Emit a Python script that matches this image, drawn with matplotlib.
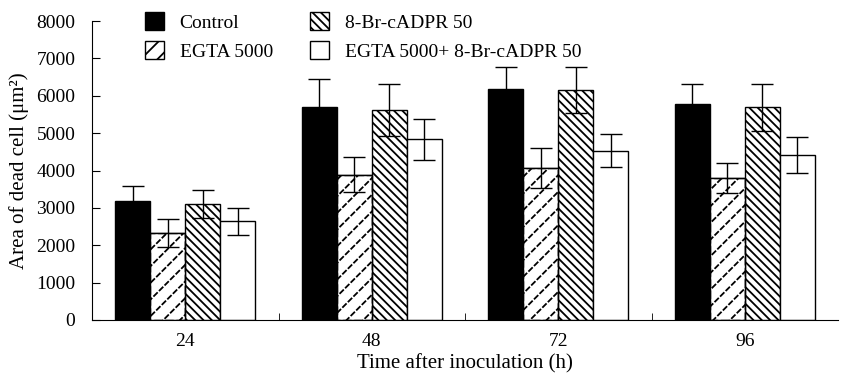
import matplotlib.pyplot as plt
import numpy as np

plt.rcParams['font.family'] = ['Liberation Serif', 'DejaVu Serif']
plt.rcParams['hatch.linewidth'] = 1.3

times = ['24', '48', '72', '96']
series = ['Control', 'EGTA 5000', '8-Br-cADPR 50', 'EGTA 5000+ 8-Br-cADPR 50']
control = [3190, 5690, 6170, 5780]
control_err = [390, 770, 600, 530]
egta = [2330, 3890, 4060, 3800]
egta_err = [380, 470, 530, 410]
br = [3100, 5615, 6150, 5690]
br_err = [370, 700, 620, 620]
combo = [2640, 4830, 4530, 4420]
combo_err = [370, 540, 440, 480]

fig = plt.figure(figsize=(8.47, 3.77), dpi=100)
ax = fig.add_axes([92 / 847, 57 / 377, 746 / 847, 299 / 377])

x = np.arange(len(times))
w = 0.1875
hatches = [None, '//', '\\\\\\\\', None]
faces = ['black', 'white', 'white', 'white']
vals = [control, egta, br, combo]
errs = [control_err, egta_err, br_err, combo_err]
handles = []
for i, (v, e, name) in enumerate(zip(vals, errs, series)):
    pos = x + (i - 1.5) * w
    b = ax.bar(pos, v, w, color=faces[i], edgecolor='black', linewidth=1.0,
               hatch=hatches[i], label=name, zorder=2)
    if i == 1:
        # break the diagonals into short dashes
        ax.bar(pos, v, w, color='none', edgecolor='white', linewidth=0,
               hatch='\\\\\\', zorder=2.1)
        ax.bar(pos, v, w, color='none', edgecolor='black', linewidth=1.0,
               zorder=2.2)
    handles.append(b)
    ax.errorbar(pos, v, yerr=e, fmt='none', ecolor='black', elinewidth=1.0,
                capsize=8, capthick=1.0, zorder=3)

ax.set_xlim(-0.5, 3.5)
ax.set_ylim(0, 8000)
ax.set_yticks(np.arange(0, 8001, 1000))
ax.set_xticks(x)
ax.set_xticklabels(times)
ax.set_xticks(np.arange(0.5, 3.5, 1), minor=True)
ax.tick_params(axis='x', which='major', length=0, labelsize=14, pad=9)
ax.tick_params(axis='x', which='minor', direction='in', length=5)
ax.tick_params(axis='y', direction='in', length=6, labelsize=14, pad=12)
ax.spines['top'].set_visible(False)
ax.spines['right'].set_visible(False)
ax.set_xlabel('Time after inoculation (h)', fontsize=15, labelpad=3)
ax.set_ylabel('Area of dead cell (μm²)', fontsize=15, labelpad=5)

ax.legend(handles, series, ncol=2, loc='upper left', bbox_to_anchor=(0.047, 1.088),
          frameon=False, fontsize=14, handlelength=1.0, handleheight=1.0,
          columnspacing=1.9, labelspacing=0.5, handletextpad=0.8)

fig.savefig('out.png', dpi=100)
